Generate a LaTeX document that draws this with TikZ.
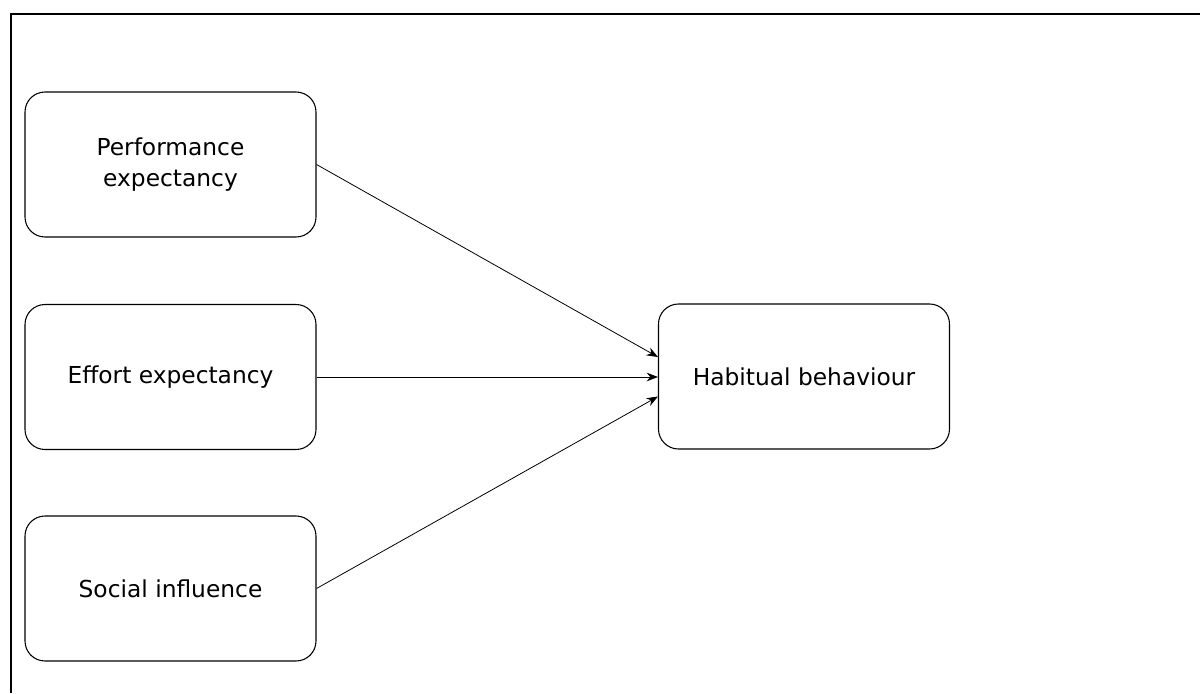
\documentclass[tikz,border=0pt]{standalone}
\usepackage{fontspec}
\setmainfont{DejaVu Sans}
\usetikzlibrary{arrows.meta,positioning}

\begin{document}
\begin{tikzpicture}[x=0.75pt,y=-0.75pt]
	\useasboundingbox (0,0) rectangle (1200,693);
	\draw[line width=1.5pt] (1200,13.5) -- (10.5,13.5) -- (10.5,693);
	\begin{scope}[every node/.style={draw,rounded corners=15pt,align=center,minimum width=218.25pt,minimum height=108.75pt,line width=0.8pt,font=\fontsize{17.5}{23}\selectfont}]
		\node (pe) at (170.5,164.5) {Performance\\expectancy};
		\node (ee) at (170.5,377) {Effort expectancy};
		\node (si) at (170.5,588.5) {Social influence};
		\node (hb) at (804,376.5) {Habitual behaviour};
	\end{scope}
	\begin{scope}[line width=0.6pt]
		\draw[-{Stealth[length=8.5pt,width=6.5pt]}] (pe.east) -- ([yshift=14.6pt]hb.west);
		\draw[-{Stealth[length=8.5pt,width=6.5pt]}] (ee.east) -- (ee.east -| hb.west);
		\draw[-{Stealth[length=8.5pt,width=6.5pt]}] (si.east) -- ([yshift=-15pt]hb.west);
	\end{scope}
\end{tikzpicture}
\end{document}
